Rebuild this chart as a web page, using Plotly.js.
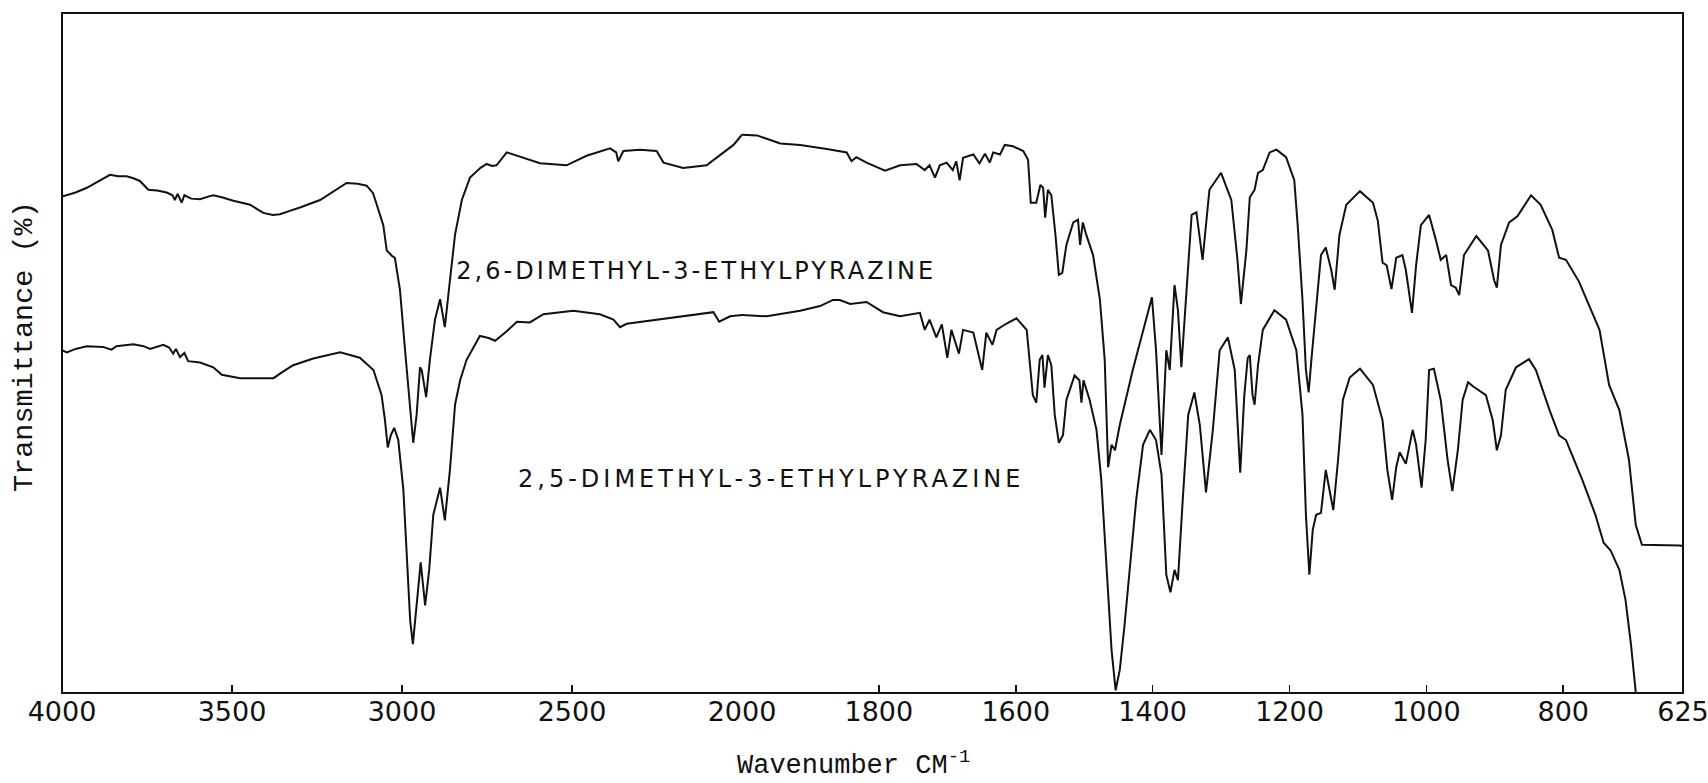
<!DOCTYPE html>
<html>
<head>
<meta charset="utf-8">
<script src="https://cdn.plot.ly/plotly-3.0.1.min.js"></script>
<style>
  html, body { margin: 0; padding: 0; background: #ffffff; }
  #chart { width: 1708px; height: 783px; }
  .annotation[data-index="0"] text { letter-spacing: 3.05px; }
  .annotation[data-index="1"] text { letter-spacing: 4.0px; }
</style>
</head>
<body>
<div id="chart"></div>
<script>
// ---- Data ----
// Wavenumbers (cm^-1) and transmittance (arbitrary %, 0 = bottom of frame, 100 = top)
const seriesNames = ["2,6-DIMETHYL-3-ETHYLPYRAZINE", "2,5-DIMETHYL-3-ETHYLPYRAZINE"];

const wn26 = [4000,3960,3927,3890,3859,3835,3810,3790,3771,3746,3720,3692,3675,3668,3660,3648,3640,3620,3594,3570,3555,3530,3496,3447,3408,3380,3359,3330,3300,3241,3202,3163,3130,3104,3085,3074,3055,3045,3030,3021,3006,2991,2976,2967,2957,2947,2942,2929,2918,2903,2888,2874,2859,2844,2824,2800,2770,2751,2735,2722,2692,2660,2633,2594,2516,2457,2388,2370,2364,2349,2300,2251,2231,2173,2104,2065,2025,2005,2000,
  1978,1944,1915,1876,1847,1840,1833,1818,1791,1769,1745,1733,1726,1718,1711,1701,1692,1687,1682,1677,1662,1653,1645,1638,1633,1623,1616,1604,1589,1582,1578,1570,1564,1560,1557,1553,1548,1542,1537,1532,1526,1516,1509,1506,1502,1497,1487,1477,1470,1465,1460,1455,1448,1429,1409,1401,1395,1387,1380,1375,1368,1363,1358,1351,1343,1336,1327,1317,1300,1285,1276,1271,1263,1258,1251,1246,1239,1229,1219,1205,1193,1188,1181,1176,1172,1168,1161,1154,1147,1139,1134,1127,1117,1097,1078,1071,1064,1058,1051,1044,1035,1030,1021,1015,1008,996,986,979,971,964,957,952,945,927,910,901,897,891,879,867,847,833,816,806,796,777,747,733,718,704,694,685,630,625];
const t26 = [73.0,73.6,74.3,75.3,76.2,76.0,76.0,75.7,75.3,74.0,73.9,73.6,73.2,72.5,73.4,72.1,73.2,72.7,72.6,73.0,73.2,72.9,72.4,71.8,70.6,70.3,70.4,70.9,71.4,72.5,73.8,75.0,74.9,74.6,73.5,71.8,68.8,65.1,64.3,64.0,59.3,50.4,41.6,36.8,40.9,47.9,47.5,43.5,49.0,54.9,57.9,53.8,60.7,67.4,72.5,75.8,77.2,77.8,77.5,77.6,79.5,79.0,78.5,77.9,77.6,79.0,80.1,79.5,78.2,79.7,79.9,79.7,78.0,77.2,77.6,79.1,80.6,81.8,82.1,
  82.0,80.8,80.6,80.0,79.5,78.2,78.8,78.0,76.8,77.6,77.8,76.9,77.6,75.8,77.6,78.0,76.9,78.2,75.4,78.7,79.2,77.9,79.3,78.0,79.5,79.2,80.6,80.4,79.7,78.4,72.1,72.1,74.7,74.3,69.9,74.0,73.2,67.4,61.5,61.8,65.9,69.2,69.6,65.9,69.2,67.4,64.4,57.8,49.0,33.2,36.5,35.7,39.4,47.5,54.9,58.2,50.4,35.0,50.4,47.5,60.0,56.3,47.9,57.8,70.3,70.7,63.7,74.0,76.5,72.5,63.7,57.2,65.1,72.9,74.0,76.5,76.9,79.5,79.9,78.8,75.4,68.8,57.8,47.5,44.2,49.0,56.3,64.4,65.5,62.2,59.3,67.4,71.8,73.8,72.1,69.5,63.3,62.9,59.4,64.0,64.4,62.2,55.9,62.9,68.8,70.3,66.6,63.7,64.4,60.0,59.6,58.5,64.4,67.2,65.1,60.7,59.6,65.9,69.2,70.1,73.2,71.8,68.1,64.0,63.7,60.5,53.4,45.3,41.6,34.3,24.7,21.8,21.7,21.6];

const wn25 = [4000,3986,3960,3927,3880,3854,3840,3790,3760,3741,3702,3685,3673,3665,3653,3640,3629,3594,3555,3530,3476,3378,3349,3320,3261,3182,3124,3084,3060,3050,3042,3033,3023,3011,2996,2986,2976,2968,2959,2945,2932,2920,2908,2888,2874,2859,2844,2829,2810,2771,2745,2726,2692,2662,2624,2584,2496,2418,2378,2359,2339,2222,2084,2067,2035,2000,
  1964,1915,1886,1867,1857,1842,1818,1794,1769,1740,1733,1726,1716,1708,1700,1694,1683,1677,1662,1649,1643,1634,1628,1614,1599,1584,1580,1575,1570,1565,1561,1558,1553,1548,1543,1537,1531,1526,1514,1507,1504,1501,1492,1482,1475,1468,1460,1454,1448,1441,1434,1424,1414,1404,1395,1387,1380,1374,1368,1363,1356,1348,1339,1331,1322,1312,1302,1290,1280,1276,1272,1266,1261,1258,1254,1251,1246,1239,1222,1205,1190,1181,1176,1171,1166,1161,1154,1147,1141,1136,1129,1122,1112,1097,1078,1064,1057,1050,1044,1039,1030,1020,1015,1007,1001,996,989,979,969,962,954,947,939,932,913,903,897,891,884,869,850,840,820,806,796,772,753,741,731,718,709,701,694];
const t25 = [50.4,50.1,50.6,51.0,50.9,50.5,51.0,51.3,51.0,50.6,51.2,50.8,49.9,50.6,49.4,50.0,48.8,48.6,47.9,46.8,46.3,46.3,47.3,48.2,49.2,50.1,49.3,47.5,43.8,40.1,36.1,37.9,39.0,37.2,29.9,21.0,10.7,7.2,11.5,19.2,12.9,18.1,26.2,30.2,25.4,32.8,42.4,46.0,49.0,52.5,52.2,51.8,53.2,54.6,54.5,55.7,56.2,55.7,54.9,53.8,54.3,55.1,56.0,54.6,55.4,55.6,
  55.4,56.2,56.9,57.8,57.8,57.2,57.5,56.0,55.4,55.9,53.4,54.9,52.3,54.2,49.3,53.4,49.9,53.4,53.0,47.5,53.0,51.2,53.4,54.3,55.1,53.4,49.0,43.8,42.7,49.0,49.7,44.9,49.7,48.2,40.9,36.8,37.9,43.1,46.7,46.0,42.7,46.0,43.1,38.7,31.3,19.6,6.3,0.4,3.4,10.0,17.4,28.4,36.5,38.7,37.2,32.1,17.4,14.8,18.1,16.6,28.4,40.9,44.2,39.4,29.5,38.7,50.4,52.3,47.5,39.4,32.4,43.8,49.3,49.7,43.8,42.4,48.2,53.4,56.3,54.9,50.4,40.9,26.2,17.4,24.0,26.2,26.5,32.8,29.5,26.9,34.3,43.1,46.4,47.7,45.3,40.1,32.8,28.4,33.2,35.4,33.7,38.7,36.5,30.2,37.2,47.5,47.7,43.1,34.3,29.7,35.7,43.1,45.7,45.1,43.8,40.1,35.7,37.9,44.6,47.9,49.1,47.5,41.6,37.9,37.2,31.3,26.2,22.1,21.0,18.1,13.7,7.1,0.1];

const ticksHigh = [4000, 3500, 3000, 2500, 2000];        // 2x-compressed section
const ticksLow  = [1800, 1600, 1400, 1200, 1000, 800, 625];
const xTitle = "Wavenumber CM<sup>-1</sup>";
const yTitle = "Transmittance (%)";

// ---- Build traces: the spectrum chart uses a scale change at 2000 cm^-1 ----
function part(wn, t, lo, hi) {
  const x = [], y = [];
  wn.forEach((w, i) => { if (w >= lo && w <= hi) { x.push(w); y.push(t[i]); } });
  return { x, y };
}
const lineStyle = { color: '#111111', width: 2 };
const traces = [];
[[wn26, t26, seriesNames[0]], [wn25, t25, seriesNames[1]]].forEach(([wn, t, name]) => {
  const a = part(wn, t, 2000, 4000);
  const b = part(wn, t, 600, 2000);
  traces.push({ x: a.x, y: a.y, xaxis: 'x', yaxis: 'y', mode: 'lines', line: lineStyle, name: name, showlegend: false, hoverinfo: 'skip' });
  traces.push({ x: b.x, y: b.y, xaxis: 'x2', yaxis: 'y', mode: 'lines', line: lineStyle, name: name, showlegend: false, hoverinfo: 'skip' });
});

const split = 680 / 1621;
const tickFont = { family: 'DejaVu Sans', size: 27, color: '#111111' };
const axisCommon = {
  ticks: 'inside', ticklen: 8, tickwidth: 1.5, tickcolor: '#111111',
  showline: false, showgrid: false, zeroline: false,
  tickfont: tickFont, ticklabeloverflow: 'allow', fixedrange: true, anchor: 'y'
};

const layout = {
  width: 1708, height: 783,
  margin: { l: 62, r: 25, t: 13, b: 90 },
  paper_bgcolor: '#ffffff', plot_bgcolor: '#ffffff',
  showlegend: false,
  xaxis: Object.assign({}, axisCommon, {
    domain: [0, split], range: [4000, 2000],
    tickmode: 'array', tickvals: ticksHigh, ticktext: ticksHigh.map(String)
  }),
  xaxis2: Object.assign({}, axisCommon, {
    domain: [split, 1], range: [2000, 625],
    tickmode: 'array', tickvals: ticksLow, ticktext: ticksLow.map(String)
  }),
  yaxis: {
    range: [0, 100], showticklabels: false, ticks: '', showgrid: false,
    zeroline: false, showline: false, fixedrange: true
  },
  shapes: [{
    type: 'rect', xref: 'paper', yref: 'paper', x0: 0, x1: 1, y0: 0, y1: 1,
    line: { color: '#111111', width: 2 }, fillcolor: 'rgba(0,0,0,0)', layer: 'above'
  }],
  annotations: [
    { text: seriesNames[0], xref: 'x', yref: 'y', x: 2134, y: 62.0, xanchor: 'center', yanchor: 'middle',
      showarrow: false, font: { family: 'DejaVu Sans', size: 24, color: '#111111' } },
    { text: seriesNames[1], xref: 'x2', yref: 'y', x: 1958, y: 31.5, xanchor: 'center', yanchor: 'middle',
      showarrow: false, font: { family: 'DejaVu Sans', size: 24, color: '#111111' } },
    { text: xTitle, xref: 'paper', yref: 'paper', x: (853 - 62) / 1621, y: (693 - 763) / 680,
      xanchor: 'center', yanchor: 'middle', showarrow: false,
      font: { family: 'Liberation Mono', size: 27, color: '#111111' } },
    { text: yTitle, xref: 'paper', yref: 'paper', x: (24 - 62) / 1621, y: (693 - 347) / 680,
      xanchor: 'center', yanchor: 'middle', textangle: -90, showarrow: false,
      font: { family: 'Liberation Mono', size: 28.5, color: '#111111' } }
  ]
};

Plotly.newPlot('chart', traces, layout, { displayModeBar: false, staticPlot: true });
</script>
</body>
</html>
